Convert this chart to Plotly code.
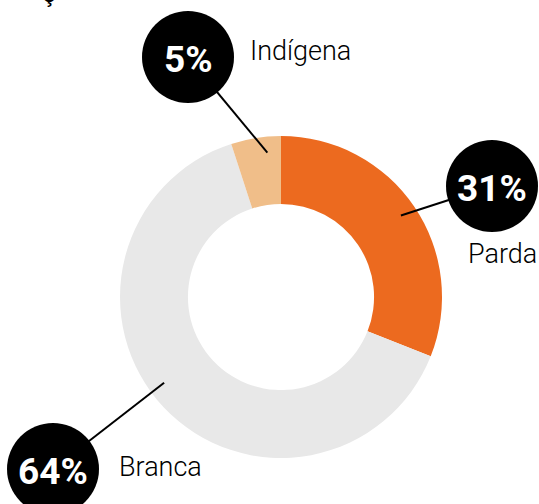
import math
import plotly.graph_objects as go

categories = ["Parda", "Branca", "Indígena"]
values = [31, 64, 5]
colors = ["#EC6A1F", "#E8E8E8", "#F0BE89"]
pct_labels = ["31%", "64%", "5%"]

W, H = 539, 504
cx, cy, R = 281, 297, 161
hole = 0.578

# badge (circle) positions and label positions in pixels
badge_pos = {"Parda": (492, 186), "Branca": (53, 469), "Indígena": (188, 57)}
badge_r = 46
label_pos = {"Parda": (466, 254, "left"), "Branca": (117, 467, "left"), "Indígena": (248, 51, "left")}
anchor_frac = {"Parda": 0.5, "Branca": 0.53, "Indígena": 0.7}
anchor_r = 145

fig = go.Figure()
fig.add_trace(go.Pie(
    labels=categories, values=values, hole=hole, sort=False, direction="clockwise",
    rotation=0, marker=dict(colors=colors, line=dict(width=0)),
    textinfo="none", hoverinfo="label+percent", showlegend=False,
    domain=dict(x=[(cx - R) / W, (cx + R) / W], y=[(H - cy - R) / H, (H - cy + R) / H]),
))

shapes = []
annotations = []
total = sum(values)
cum = 0
for cat, v, pl in zip(categories, values, pct_labels):
    ang = (cum + v * anchor_frac[cat]) / total * 2 * math.pi
    cum += v
    ax = cx + anchor_r * math.sin(ang)
    ay = cy - anchor_r * math.cos(ang)
    bx, by = badge_pos[cat]
    shapes.append(dict(type="line", xref="x", yref="y", x0=ax, y0=ay, x1=bx, y1=by,
                       line=dict(color="black", width=2), layer="above"))
    shapes.append(dict(type="circle", xref="x", yref="y", x0=bx - badge_r, x1=bx + badge_r,
                       y0=by - badge_r, y1=by + badge_r, fillcolor="black",
                       line=dict(width=0), layer="above"))
    annotations.append(dict(x=bx, y=by + 2, xref="x", yref="y", text="<b>%s</b>" % pl, showarrow=False,
                            font=dict(family="Roboto", size=37, color="white"),
                            xanchor="center", yanchor="middle"))
    lx, ly, anc = label_pos[cat]
    annotations.append(dict(x=lx, y=ly, xref="x", yref="y", text=cat, showarrow=False,
                            font=dict(family="Roboto", size=27, color="black", weight=300),
                            xanchor=anc, yanchor="middle"))

# clipped title fragment at top edge
annotations.append(dict(x=49 / W, y=1 + 7 / H, xref="paper", yref="paper", text="ç", showarrow=False,
                        font=dict(family="Roboto", size=26, color="black"),
                        xanchor="center", yanchor="middle"))

fig.update_layout(
    width=W, height=H, margin=dict(l=0, r=0, t=0, b=0),
    paper_bgcolor="white", plot_bgcolor="rgba(0,0,0,0)",
    xaxis=dict(range=[0, W], visible=False, fixedrange=True),
    yaxis=dict(range=[H, 0], visible=False, fixedrange=True),
    shapes=shapes, annotations=annotations,
)
fig.write_html("out.html", config={"displayModeBar": False},
               post_script="document.body.style.margin='0';document.body.style.overflow='hidden';")
